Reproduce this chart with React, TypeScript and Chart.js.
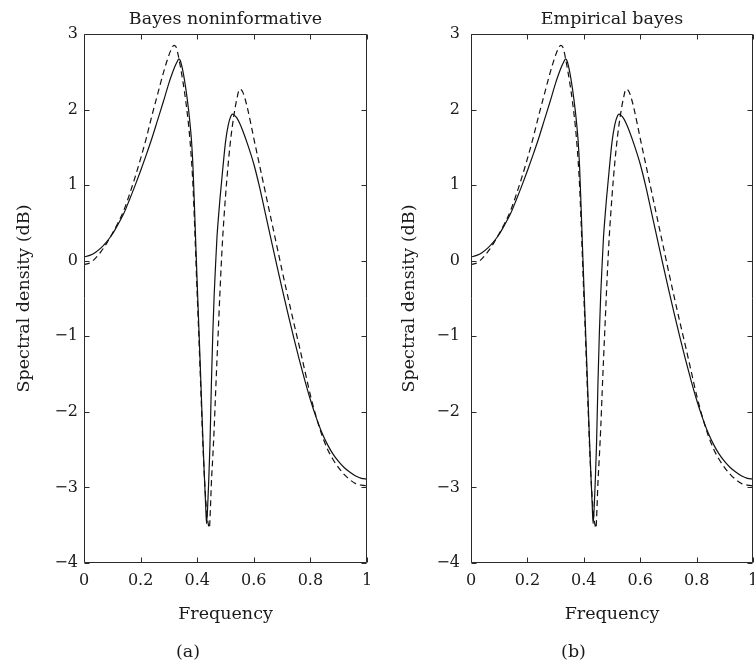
import React, { useEffect, useRef } from "react";
import { Chart, registerables } from "chart.js";

Chart.register(...registerables);

// ---- data ----
const solidFreq = [
  0, 0.02, 0.04, 0.06, 0.08, 0.1, 0.12, 0.14, 0.16, 0.18, 0.2, 0.22, 0.24, 0.26, 0.28, 0.3, 0.31, 0.32, 0.33,
  0.335, 0.34, 0.35, 0.36, 0.37, 0.375, 0.38, 0.385, 0.39, 0.395, 0.4, 0.405, 0.41, 0.415, 0.42, 0.425, 0.43,
  0.433, 0.437, 0.44, 0.445, 0.45, 0.455, 0.46, 0.465, 0.47, 0.475, 0.48, 0.49, 0.5, 0.51, 0.52, 0.525, 0.53,
  0.54, 0.55, 0.56, 0.58, 0.6, 0.62, 0.64, 0.66, 0.68, 0.7, 0.72, 0.74, 0.76, 0.78, 0.8, 0.82, 0.84, 0.86,
  0.88, 0.9, 0.92, 0.94, 0.96, 0.98, 1.0,
];
const solidDb = [
  0.05, 0.07, 0.11, 0.17, 0.25, 0.35, 0.48, 0.62, 0.8, 0.99, 1.19, 1.4, 1.62, 1.86, 2.1, 2.35, 2.46, 2.56, 2.64,
  2.67, 2.65, 2.5, 2.27, 1.98, 1.8, 1.58, 1.25, 0.75, 0.22, -0.3, -0.8, -1.3, -1.82, -2.35, -2.82, -3.25,
  -3.48, -3.25, -2.98, -2.45, -1.65, -0.98, -0.45, -0.05, 0.32, 0.57, 0.8, 1.2, 1.57, 1.8, 1.92, 1.94, 1.93,
  1.89, 1.82, 1.73, 1.52, 1.28, 0.98, 0.64, 0.3, -0.04, -0.37, -0.69, -1.0, -1.3, -1.58, -1.84, -2.07, -2.27,
  -2.43, -2.56, -2.66, -2.74, -2.8, -2.85, -2.88, -2.89,
];
const dashedFreq = [
  0, 0.02, 0.04, 0.06, 0.08, 0.1, 0.12, 0.14, 0.16, 0.18, 0.2, 0.22, 0.24, 0.26, 0.28, 0.3, 0.31, 0.318, 0.325,
  0.33, 0.34, 0.35, 0.36, 0.37, 0.375, 0.38, 0.385, 0.39, 0.395, 0.4, 0.405, 0.41, 0.415, 0.42, 0.425, 0.43,
  0.435, 0.44, 0.443, 0.447, 0.45, 0.455, 0.46, 0.465, 0.47, 0.475, 0.48, 0.485, 0.49, 0.5, 0.51, 0.52, 0.53,
  0.54, 0.55, 0.56, 0.57, 0.58, 0.6, 0.62, 0.64, 0.66, 0.68, 0.7, 0.72, 0.74, 0.76, 0.78, 0.8, 0.82, 0.84, 0.86,
  0.88, 0.9, 0.92, 0.94, 0.96, 0.98, 1.0,
];
const dashedDb = [
  -0.05, -0.03, 0.03, 0.12, 0.23, 0.36, 0.5, 0.66, 0.87, 1.1, 1.35, 1.62, 1.92, 2.2, 2.48, 2.72, 2.81, 2.85, 2.83,
  2.77, 2.58, 2.36, 2.1, 1.78, 1.57, 1.32, 1.0, 0.55, 0.05, -0.45, -0.92, -1.42, -1.93, -2.42, -2.83, -3.15,
  -3.38, -3.5, -3.54, -3.25, -2.95, -2.6, -2.22, -1.75, -1.3, -0.88, -0.45, -0.05, 0.3, 0.85, 1.3, 1.66, 1.93,
  2.14, 2.27, 2.24, 2.13, 1.98, 1.62, 1.27, 0.92, 0.57, 0.22, -0.13, -0.47, -0.8, -1.12, -1.45, -1.78, -2.06,
  -2.3, -2.49, -2.63, -2.74, -2.83, -2.9, -2.95, -2.97, -2.98,
];
const xTickValues = [0, 0.2, 0.4, 0.6, 0.8, 1];
const yTickValues = [-4, -3, -2, -1, 0, 1, 2, 3];
const panelTitles = ["Bayes noninformative", "Empirical bayes"];
const panelCaptions = ["(a)", "(b)"];
const xAxisLabel = "Frequency";
const yAxisLabel = "Spectral density (dB)";

const FONT_FAMILY = "'DejaVu Serif', serif";
const TEXT_COLOR = "#1a1a1a";

const framePlugin = {
  id: "frameTicks",
  afterDatasetsDraw(chart: any) {
    const { ctx, chartArea: a, scales } = chart;
    const xs = scales.x;
    const ys = scales.y;
    const L = Math.round(a.left) + 0.5;
    const R = Math.round(a.right) - 0.5;
    const T = Math.round(a.top) + 0.5;
    const B = Math.round(a.bottom) - 0.5;
    ctx.save();
    ctx.strokeStyle = "#2a2a2a";
    ctx.lineWidth = 1;
    ctx.beginPath();
    ctx.moveTo(L, T);
    ctx.lineTo(R, T);
    ctx.lineTo(R, B);
    ctx.lineTo(L, B);
    ctx.closePath();
    const len = 5;
    xTickValues.forEach((v) => {
      const p = Math.round(xs.getPixelForValue(v)) + 0.5;
      ctx.moveTo(p, B);
      ctx.lineTo(p, B - len);
      ctx.moveTo(p, T);
      ctx.lineTo(p, T + len);
    });
    yTickValues.forEach((v) => {
      const p = Math.round(ys.getPixelForValue(v)) + 0.5;
      ctx.moveTo(L, p);
      ctx.lineTo(L + len, p);
      ctx.moveTo(R, p);
      ctx.lineTo(R - len, p);
    });
    ctx.stroke();
    ctx.restore();
  },
};

type PanelProps = {
  index: number;
  left: number;
  width: number;
  padLeft: number;
  padRight: number;
  yScaleWidth: number;
  yTickPad: number;
  yTitlePad: number;
};

function Panel(props: PanelProps) {
  const ref = useRef<HTMLCanvasElement | null>(null);
  useEffect(() => {
    if (!ref.current) return;
    const font = (size: number) => ({ family: FONT_FAMILY, size, weight: "normal" as const });
    const chart = new Chart(ref.current, {
      type: "line",
      data: {
        datasets: [
          {
            data: dashedFreq.map((f, i) => ({ x: f, y: dashedDb[i] })),
            borderColor: "#111",
            borderWidth: 1.2,
            borderDash: [6, 4],
            pointRadius: 0,
            cubicInterpolationMode: "monotone",
            fill: false,
          },
          {
            data: solidFreq.map((f, i) => ({ x: f, y: solidDb[i] })),
            borderColor: "#111",
            borderWidth: 1.2,
            pointRadius: 0,
            cubicInterpolationMode: "monotone",
            fill: false,
          },
        ],
      },
      options: {
        animation: false,
        responsive: false,
        events: [],
        layout: { padding: { left: props.padLeft, right: props.padRight, top: 0, bottom: 0 } },
        plugins: {
          legend: { display: false },
          tooltip: { enabled: false },
          title: {
            display: true,
            text: panelTitles[props.index],
            fullSize: false,
            color: TEXT_COLOR,
            font: font(17.5),
            padding: { top: 9, bottom: 4 },
          },
          subtitle: {
            display: true,
            position: "bottom",
            text: panelCaptions[props.index],
            fullSize: true,
            color: TEXT_COLOR,
            font: font(17.5),
            padding: { top: 4, bottom: 2.5 },
          },
        },
        scales: {
          x: {
            type: "linear",
            min: 0,
            max: 1,
            grid: { display: false, drawTicks: false },
            border: { display: false },
            ticks: {
              stepSize: 0.2,
              padding: 8,
              autoSkip: false,
              maxRotation: 0,
              color: TEXT_COLOR,
              font: font(16),
              callback: (v: any) => {
                const n = Number(v);
                if (Math.abs(n) < 1e-9) return "0";
                if (Math.abs(n - 1) < 1e-9) return "1";
                return n.toFixed(1);
              },
            },
            title: {
              display: true,
              text: xAxisLabel,
              color: TEXT_COLOR,
              font: font(17.5),
              padding: { top: 0, bottom: 13 },
            },
            afterFit: (s: any) => {
              s.height = 74.5;
            },
          },
          y: {
            type: "linear",
            min: -4,
            max: 3,
            grid: { display: false, drawTicks: false },
            border: { display: false },
            ticks: {
              stepSize: 1,
              padding: props.yTickPad,
              color: TEXT_COLOR,
              font: font(16),
              callback: (v: any) => {
                const n = Math.round(Number(v));
                return n < 0 ? "\u2212" + Math.abs(n) : String(n);
              },
            },
            title: {
              display: true,
              text: yAxisLabel,
              color: TEXT_COLOR,
              font: font(17.5),
              padding: { top: props.yTitlePad, bottom: 0 },
            },
            afterFit: (s: any) => {
              s.width = props.yScaleWidth;
            },
          },
        },
      } as any,
      plugins: [framePlugin],
    });
    return () => chart.destroy();
  }, []);
  return (
    <canvas
      ref={ref}
      width={props.width}
      height={665}
      style={{ position: "absolute", left: props.left, top: 0, width: props.width, height: 665 }}
    />
  );
}

export default function App() {
  return (
    <div
      style={{
        position: "fixed",
        left: 0,
        top: 0,
        width: 754,
        height: 665,
        overflow: "hidden",
        background: "#fff",
      }}
    >
      <Panel index={0} left={0} width={381} padLeft={9} padRight={14} yScaleWidth={75} yTickPad={6} yTitlePad={4.5} />
      <Panel index={1} left={377} width={392} padLeft={17} padRight={16} yScaleWidth={77} yTickPad={11} yTitlePad={4.5} />
    </div>
  );
}
